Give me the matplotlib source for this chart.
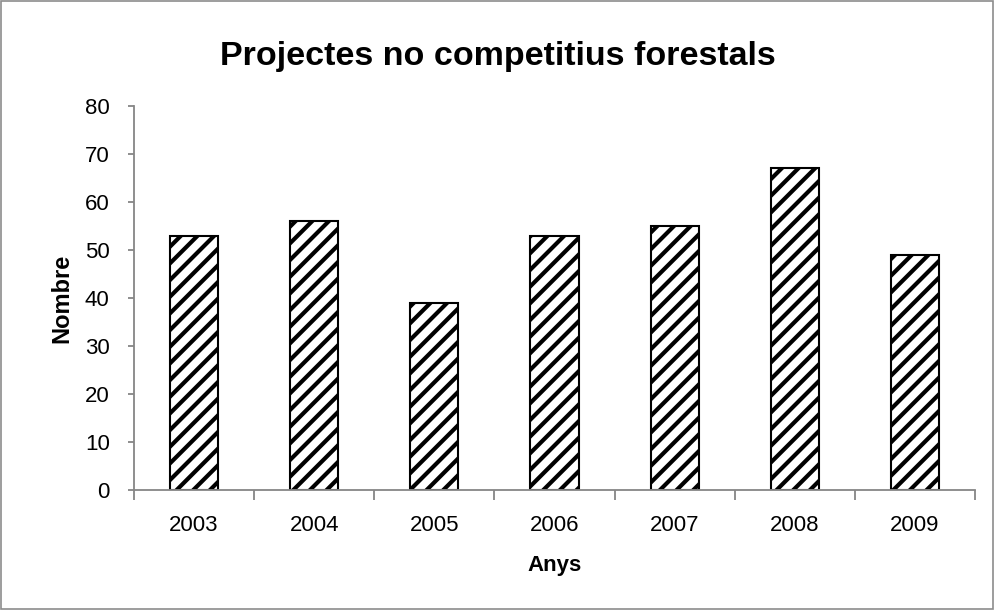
import matplotlib.pyplot as plt
from matplotlib.patches import Rectangle

# Dades del gràfic
anys = ["2003", "2004", "2005", "2006", "2007", "2008", "2009"]
nombre = [53, 56, 39, 53, 55, 67, 49]

plt.rcParams["font.family"] = ["Liberation Sans", "DejaVu Sans"]
plt.rcParams["hatch.linewidth"] = 3.0
plt.rcParams["hatch.color"] = "black"

fig = plt.figure(figsize=(9.95, 6.1), dpi=100)
ax = fig.add_axes([134 / 995, 1 - 490 / 610, (975 - 134) / 995, (490 - 106) / 610])

x = range(len(anys))
ax.bar(x, nombre, width=0.4, color="white", edgecolor="black",
       linewidth=1.5, hatch="//")

ax.set_xlim(-0.5, len(anys) - 0.5)
ax.set_ylim(0, 80)
ax.set_yticks(range(0, 81, 10))
ax.set_xticks([i - 0.5 for i in range(len(anys) + 1)])
ax.set_xticklabels([])
ax.set_xticks(list(x), minor=True)
ax.set_xticklabels(anys, minor=True)
ax.tick_params(axis="x", which="minor", length=0, pad=18, labelsize=16)
ax.tick_params(axis="x", which="major", length=7, direction="out", color="#868686", width=1.3)
ax.tick_params(axis="y", length=4.5, direction="out", color="#868686", width=1.3, labelsize=16, pad=13)

for side in ["top", "right"]:
    ax.spines[side].set_visible(False)
for side in ["left", "bottom"]:
    ax.spines[side].set_color("#868686")
    ax.spines[side].set_linewidth(1.3)

ax.set_xlabel("Anys", fontsize=16, fontweight="bold", va="center")
ax.xaxis.set_label_coords(0.5, (490 - 566) / 384)
ax.set_ylabel("Nombre", fontsize=17, fontweight="bold", va="center")
ax.yaxis.set_label_coords((62 - 134) / 841, 0.5)
fig.text(0.5, 1 - 56 / 610, "Projectes no competitius forestals",
         ha="center", va="center", fontsize=24.5, fontweight="bold")

# Vora exterior del gràfic
fig.patches.append(Rectangle((0.001, 0.002), 0.997, 0.996, transform=fig.transFigure,
                             fill=False, edgecolor="#8c8c8c", linewidth=1.2))

fig.savefig("out.png", dpi=100)
